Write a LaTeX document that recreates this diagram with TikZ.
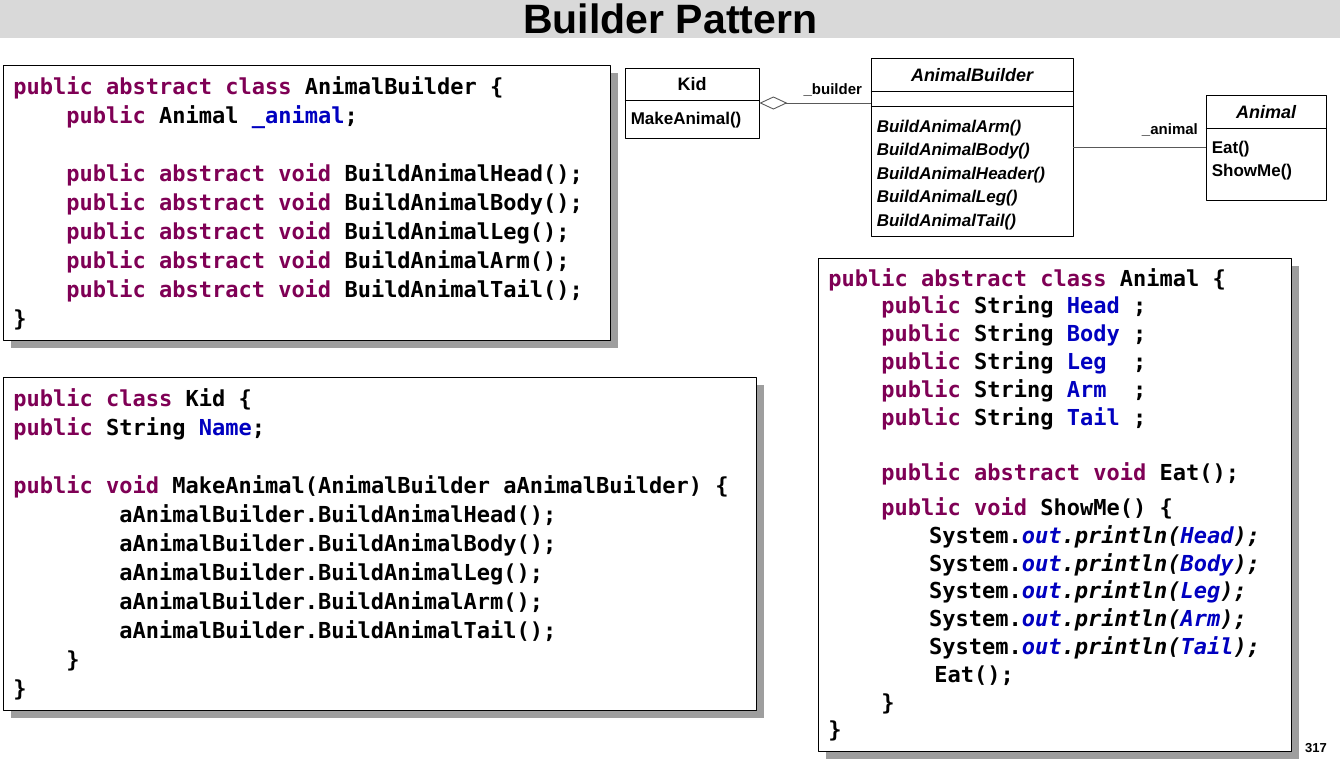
\documentclass[tikz,border=0pt]{standalone}
\usepackage{fontspec}
\setmainfont{Liberation Sans}
\newfontfamily\codefont{DejaVu Sans Mono}[BoldFont={DejaVu Sans Mono Bold},ItalicFont={DejaVu Sans Mono Oblique},BoldItalicFont={DejaVu Sans Mono Bold Oblique}]
\usetikzlibrary{positioning,arrows.meta,shadows}
\definecolor{kwcol}{RGB}{127,0,85}
\definecolor{fldcol}{RGB}{0,0,192}
\newcommand\kw[1]{\textcolor{kwcol}{#1}}
\newcommand\fld[1]{\textcolor{fldcol}{#1}}
\newcommand\sfld[1]{\textcolor{fldcol}{\itshape #1}}
\newcommand\tabin[1]{\hspace*{#1\dimexpr0.602em\relax}}
\begin{document}
\begin{tikzpicture}[x=1pt, y=-1pt, line join=round,
    codebox/.style={draw, line width=0.8pt, fill=white, anchor=north west, align=flush left,
        inner xsep=10pt, inner ysep=0pt,
        font={\codefont\bfseries\fontsize{22pt}{#1}\selectfont\frenchspacing},
        execute at begin node={\spaceskip=0.602em\xspaceskip=0.602em\relax},
        drop shadow={shadow xshift=8pt, shadow yshift=-8pt, fill=black!38, opacity=1}},
    codebox/.default=29pt,
    umlbox/.style={draw, line width=0.8pt, fill=white, inner sep=0pt},
    umltext/.style={font=\bfseries\fontsize{17pt}{23.5pt}\selectfont, inner sep=0pt, align=left},
    umlname/.style={font=\bfseries\fontsize{18pt}{20pt}\selectfont, inner sep=0pt},
    lbl/.style={font=\bfseries\fontsize{15pt}{17pt}\selectfont, inner sep=0pt},
    assoc/.style={draw=black!65, line width=0.9pt}]
    \useasboundingbox (0,0) rectangle (1340,758);
    % title bar
    \node[fill=gray!30, minimum width=1340pt, minimum height=38pt, anchor=north west, inner sep=0pt,
        font=\bfseries\fontsize{41pt}{44pt}\selectfont] (title) at (0,0) {Builder Pattern};
    % code boxes
    \node[codebox, minimum width=607pt, minimum height=275pt, text width=587pt] (abcode) at (3,65) {%
        \kw{public abstract class} AnimalBuilder \{\\
        \tabin{4}\kw{public} Animal \fld{\_animal};\\
        \mbox{}\\
        \tabin{4}\kw{public abstract void} BuildAnimalHead();\\
        \tabin{4}\kw{public abstract void} BuildAnimalBody();\\
        \tabin{4}\kw{public abstract void} BuildAnimalLeg();\\
        \tabin{4}\kw{public abstract void} BuildAnimalArm();\\
        \tabin{4}\kw{public abstract void} BuildAnimalTail();\\
        \}};
    \node[codebox, minimum width=753pt, minimum height=333pt, text width=733pt] (kidcode) at (3,377) {%
        \kw{public class} Kid \{\\
        \kw{public} String \fld{Name};\\
        \mbox{}\\
        \kw{public void} MakeAnimal(AnimalBuilder aAnimalBuilder) \{\\
        \tabin{8}aAnimalBuilder.BuildAnimalHead();\\
        \tabin{8}aAnimalBuilder.BuildAnimalBody();\\
        \tabin{8}aAnimalBuilder.BuildAnimalLeg();\\
        \tabin{8}aAnimalBuilder.BuildAnimalArm();\\
        \tabin{8}aAnimalBuilder.BuildAnimalTail();\\
        \tabin{4}\}\\
        \}};
    \node[codebox=27.8pt, minimum width=473pt, minimum height=493pt, text width=453pt] (animalcode) at (818,258) {%
        \kw{public abstract class} Animal \{\\
        \tabin{4}\kw{public} String \fld{Head} ;\\
        \tabin{4}\kw{public} String \fld{Body} ;\\
        \tabin{4}\kw{public} String \fld{Leg}\ \ ;\\
        \tabin{4}\kw{public} String \fld{Arm}\ \ ;\\
        \tabin{4}\kw{public} String \fld{Tail} ;\\
        \mbox{}\\
        \tabin{4}\kw{public abstract void} Eat();\\[7pt]
        \tabin{4}\kw{public void} ShowMe() \{\\
        \tabin{7.6}System.\sfld{out}\textit{.println(\sfld{Head});}\\
        \tabin{7.6}System.\sfld{out}\textit{.println(\sfld{Body});}\\
        \tabin{7.6}System.\sfld{out}\textit{.println(\sfld{Leg});}\\
        \tabin{7.6}System.\sfld{out}\textit{.println(\sfld{Arm});}\\
        \tabin{7.6}System.\sfld{out}\textit{.println(\sfld{Tail});}\\
        \tabin{8}Eat();\\
        \tabin{4}\}\\
        \}};
    % class diagram
    \node[umlbox, minimum width=134pt, minimum height=70pt] (kid) at (692,103) {};
    \draw ([yshift=-33pt]kid.north west) -- ([yshift=-33pt]kid.north east);
    \node[umlname] (kidname) at ([yshift=-16.5pt]kid.north) {Kid};
    \node[umltext, anchor=west] (kidops) at ([shift={(6pt,18.5pt)}]kid.south west) {MakeAnimal()};
    \node[umlbox, minimum width=202pt, minimum height=178pt] (ab) at (972,147) {};
    \draw ([yshift=-34pt]ab.north west) -- ([yshift=-34pt]ab.north east);
    \draw ([yshift=-49pt]ab.north west) -- ([yshift=-49pt]ab.north east);
    \node[umlname] (abname) at ([yshift=-17pt]ab.north) {\itshape AnimalBuilder};
    \node[umltext, anchor=north west, font=\bfseries\itshape\fontsize{17pt}{23.5pt}\selectfont] (abops)
        at ([shift={(6pt,-62pt)}]ab.north west) {BuildAnimalArm()\\BuildAnimalBody()\\BuildAnimalHeader()\\BuildAnimalLeg()\\BuildAnimalTail()};
    \node[umlbox, minimum width=120pt, minimum height=105pt] (animal) at (1266,147.5) {};
    \draw ([yshift=-34pt]animal.north west) -- ([yshift=-34pt]animal.north east);
    \node[umlname] (animalname) at ([yshift=-17pt]animal.north) {\itshape Animal};
    \node[umltext, anchor=north west] (animalops) at ([shift={(6pt,-46pt)}]animal.north west) {Eat()\\ShowMe()};
    \draw[assoc, {Diamond[open, length=28pt, width=13pt]}-] (kid.east) -- (kid.east -| ab.west)
        node[lbl, pos=.66, above=6pt] (builderlbl) {\_builder};
    \draw[assoc] (ab.east) -- (ab.east -| animal.west)
        node[lbl, pos=.73, above=10pt] (animallbl) {\_animal};
    \node[font=\bfseries\fontsize{13pt}{15pt}\selectfont] (page) at (1316,748) {317};
\end{tikzpicture}
\end{document}
